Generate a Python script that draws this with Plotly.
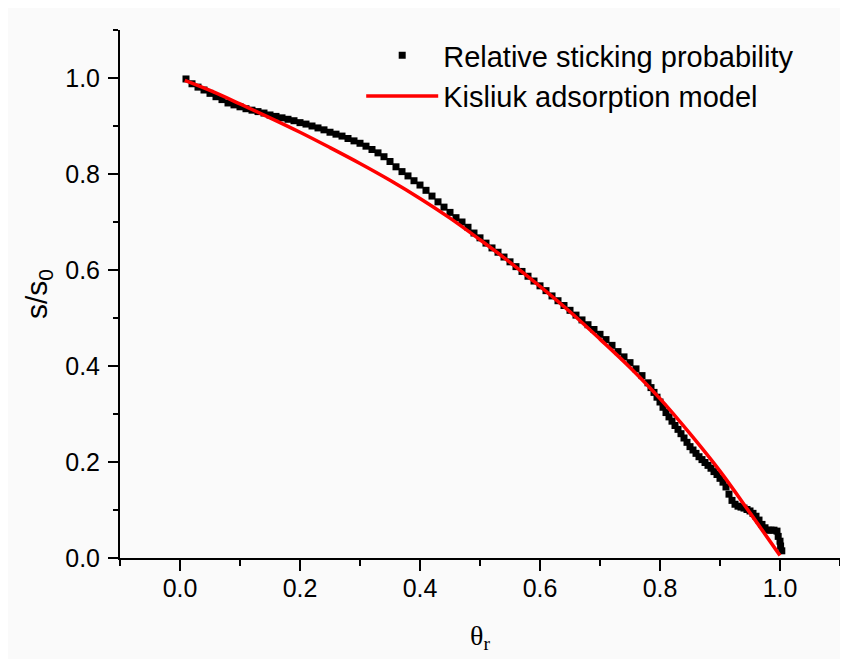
import plotly.graph_objects as go

# Relative sticking probability (black squares)
theta_data = [0.01, 0.02, 0.03, 0.04, 0.05, 0.06, 0.07, 0.08, 0.09, 0.10,
              0.11, 0.12, 0.13, 0.14, 0.15, 0.16, 0.17, 0.18, 0.19, 0.20,
              0.21, 0.22, 0.23, 0.24, 0.25, 0.26, 0.27, 0.28, 0.29, 0.30,
              0.31, 0.32, 0.33, 0.34, 0.35, 0.36, 0.37, 0.38, 0.39, 0.40,
              0.41, 0.42, 0.43, 0.44, 0.45, 0.46, 0.47, 0.48, 0.49, 0.50,
              0.51, 0.52, 0.53, 0.54, 0.55, 0.56, 0.57, 0.58, 0.59, 0.60,
              0.61, 0.62, 0.63, 0.64, 0.65, 0.66, 0.67, 0.68, 0.69, 0.70,
              0.71, 0.72, 0.73, 0.74, 0.75, 0.76, 0.77, 0.78, 0.785, 0.79,
              0.795, 0.80, 0.805, 0.81, 0.815, 0.82, 0.825, 0.83, 0.835, 0.84,
              0.845, 0.85, 0.855, 0.86, 0.865, 0.87, 0.875, 0.88, 0.885, 0.89,
              0.895, 0.90, 0.905, 0.91, 0.915, 0.92, 0.925, 0.93, 0.935, 0.94,
              0.945, 0.95, 0.955, 0.96, 0.965, 0.97, 0.975, 0.98, 0.985, 0.99,
              0.995, 0.997, 1.0, 1.001, 1.003]
s_data = [0.998, 0.988, 0.981, 0.975, 0.968, 0.961, 0.955, 0.948, 0.944, 0.940,
          0.936, 0.933, 0.930, 0.927, 0.923, 0.920, 0.917, 0.914, 0.911, 0.907,
          0.904, 0.900, 0.896, 0.892, 0.887, 0.883, 0.879, 0.874, 0.869, 0.864,
          0.858, 0.851, 0.844, 0.836, 0.826, 0.815, 0.805, 0.796, 0.786, 0.777,
          0.766, 0.754, 0.742, 0.731, 0.720, 0.709, 0.700, 0.689, 0.677, 0.667,
          0.656, 0.646, 0.637, 0.627, 0.617, 0.607, 0.597, 0.587, 0.577, 0.567,
          0.557, 0.546, 0.536, 0.526, 0.516, 0.506, 0.496, 0.486, 0.476, 0.466,
          0.455, 0.443, 0.430, 0.419, 0.407, 0.394, 0.380, 0.365, 0.355, 0.345,
          0.335, 0.325, 0.314, 0.303, 0.294, 0.285, 0.276, 0.268, 0.259, 0.250,
          0.241, 0.232, 0.225, 0.218, 0.211, 0.205, 0.199, 0.193, 0.187, 0.180,
          0.174, 0.166, 0.158, 0.148, 0.133, 0.120, 0.112, 0.108, 0.106, 0.104,
          0.101, 0.098, 0.093, 0.087, 0.079, 0.070, 0.063, 0.058, 0.058, 0.058,
          0.056, 0.045, 0.035, 0.025, 0.015]

# Kisliuk adsorption model (red line)
theta_model = [0.008, 0.05, 0.10, 0.15, 0.20, 0.25, 0.30, 0.35, 0.40, 0.45, 0.50,
               0.55, 0.60, 0.65, 0.70, 0.75, 0.80, 0.85, 0.90, 0.95, 1.0]
s_model = [0.995, 0.974, 0.946, 0.917, 0.887, 0.855, 0.822, 0.787, 0.749, 0.708, 0.663,
           0.616, 0.566, 0.513, 0.456, 0.397, 0.332, 0.259, 0.181, 0.094, 0.005]

x_ticks = [0.0, 0.2, 0.4, 0.6, 0.8, 1.0]
x_ticklabels = ["0.0", "0.2", "0.4", "0.6", "0.8", "1.0"]
y_ticks = [0.0, 0.2, 0.4, 0.6, 0.8, 1.0]
y_ticklabels = ["0.0", "0.2", "0.4", "0.6", "0.8", "1.0"]

FONT = "Arial, 'Liberation Sans', sans-serif"
SERIF = "'Times New Roman', 'Liberation Serif', serif"

fig = go.Figure()
fig.add_trace(go.Scatter(
    x=theta_data, y=s_data, mode="markers", name="Relative sticking probability",
    marker=dict(symbol="square", size=7, color="black", line=dict(width=0)),
))
fig.add_trace(go.Scatter(
    x=theta_model, y=s_model, mode="lines", name="Kisliuk adsorption model",
    line=dict(color="#ff0000", width=3.5, shape="spline"),
))

axis_common = dict(
    showline=True, linecolor="black", linewidth=2,
    ticks="outside", tickwidth=2, tickcolor="black",
    showgrid=False, zeroline=False, mirror=False,
    tickfont=dict(family=FONT, size=25, color="black"),
)

fig.update_layout(
    width=840, height=651,
    margin=dict(l=112, r=8, t=22, b=101),
    paper_bgcolor="#fafafa", plot_bgcolor="#fafafa",
    font=dict(family=FONT, color="black"),
    showlegend=True,
    legend=dict(x=0.335, y=1.0, xanchor="left", yanchor="top",
                bgcolor="rgba(0,0,0,0)", borderwidth=0,
                font=dict(family=FONT, size=29, color="black"),
                itemwidth=72, tracegroupgap=0),
    xaxis=dict(range=[-0.1, 1.1], tickvals=x_ticks, ticktext=x_ticklabels, ticklen=11,
               minor=dict(dtick=0.1, tick0=0, ticks="outside", ticklen=6, tickwidth=2, tickcolor="black"),
               title=dict(text="θ<sub>r</sub>", font=dict(family=SERIF, size=28), standoff=24),
               ticklabelstandoff=-4,
               **axis_common),
    yaxis=dict(range=[0, 1.1], tickvals=y_ticks, ticktext=y_ticklabels, ticklen=10,
               minor=dict(dtick=0.1, tick0=0, ticks="outside", ticklen=5, tickwidth=2, tickcolor="black"),
               title=dict(text="s/s<sub>0</sub>", font=dict(family=FONT, size=30), standoff=9),
               ticklabelstandoff=3,
               **axis_common),
)

fig.write_html("out.html")
